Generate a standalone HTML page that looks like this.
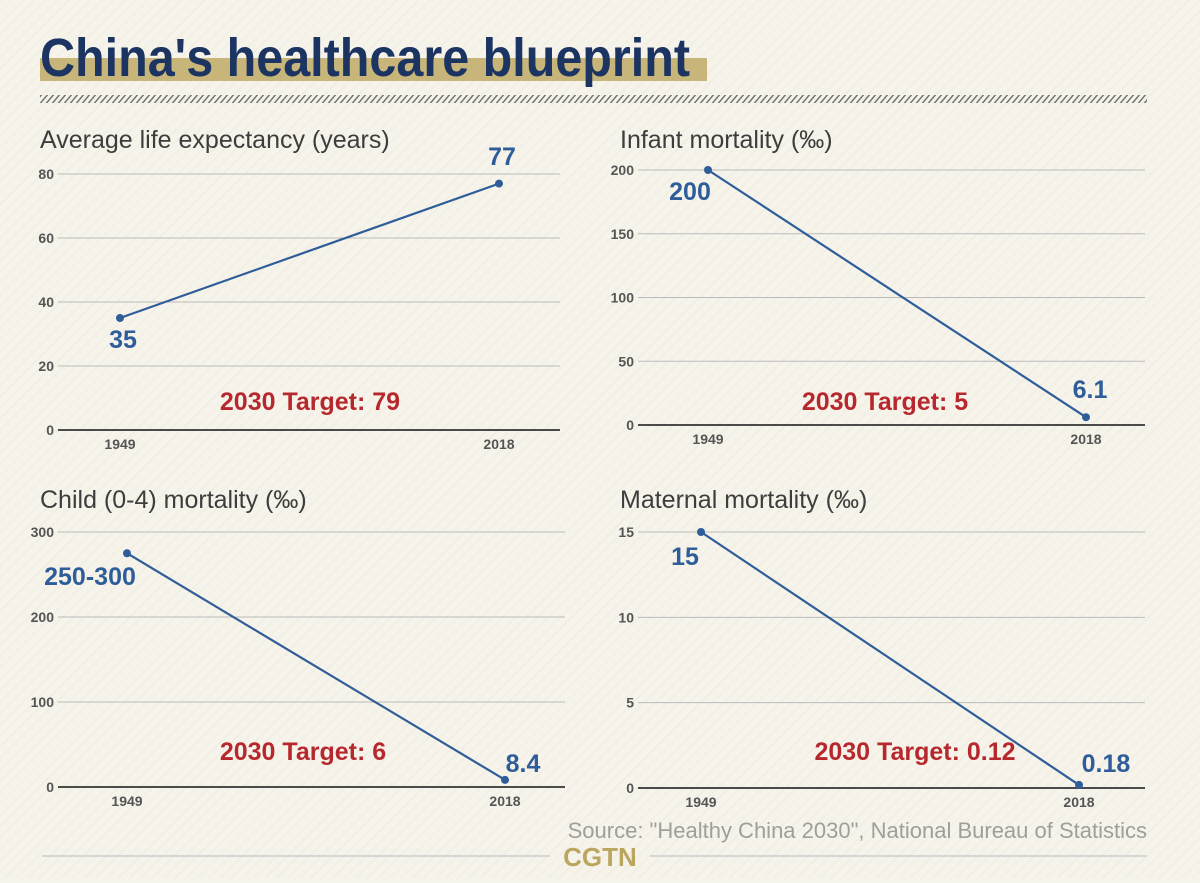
<!DOCTYPE html>
<html><head><meta charset="utf-8"><style>
body{margin:0;width:1200px;height:878px;overflow:hidden;background:#f6f3ea;font-family:"Liberation Sans Narrow","Liberation Sans",sans-serif;}
svg text{font-family:"Liberation Sans Narrow","Liberation Sans",sans-serif;}
</style></head><body>
<svg width="1200" height="878">
<defs>
<pattern id="bg" width="8" height="8" patternUnits="userSpaceOnUse" patternTransform="rotate(45)"><rect width="8" height="8" fill="#f6f3ea"/><rect width="1" height="8" fill="#efebe0"/></pattern>
<pattern id="hatch" width="6" height="8" patternUnits="userSpaceOnUse" patternTransform="skewX(-40)"><rect width="2" height="8" fill="#777"/></pattern>
</defs>
<rect width="1200" height="878" fill="url(#bg)"/>
<rect x="40" y="58" width="667" height="23" fill="#c8b57a"/>
<text x="40" y="76" font-size="54" font-weight="bold" fill="#1c3461" textLength="650" lengthAdjust="spacingAndGlyphs">China's healthcare blueprint</text>
<rect x="40" y="95" width="1107" height="8" fill="url(#hatch)"/>
<g id="charts"></g>
<text x="1147" y="838" text-anchor="end" font-size="22" fill="#a09e9a">Source: "Healthy China 2030", National Bureau of Statistics</text>
<line x1="42" y1="856" x2="550" y2="856" stroke="#ccc" stroke-width="1.5"/>
<line x1="650" y1="856" x2="1147" y2="856" stroke="#ccc" stroke-width="1.5"/>
<text x="600" y="866" text-anchor="middle" font-size="26" font-weight="bold" fill="#bba660">CGTN</text>
</svg>
<script>
const titles=["Average life expectancy (years)","Infant mortality (‰)","Child (0-4) mortality (‰)","Maternal mortality (‰)"];
const years=["1949","2018"];
const lifeValues=[35,77];
const infantValues=[200,6.1];
const childValues=[275,8.4];
const maternalValues=[15,0.18];
const valueLabels=[["35","77"],["200","6.1"],["250-300","8.4"],["15","0.18"]];
const targets=["2030 Target: 79","2030 Target: 5","2030 Target: 6","2030 Target: 0.12"];
const ticks=[[0,20,40,60,80],[0,50,100,150,200],[0,100,200,300],[0,5,10,15]];
const maxes=[80,200,300,15];
const series=[lifeValues,infantValues,childValues,maternalValues];
const layout=[
 {tx:40,ty:148,gx0:58,gx1:560,y0:430,yTop:174,x0:120,x1:499,tgx:310,tgy:410,lab:[[123,348],[502,165]]},
 {tx:620,ty:148,gx0:638,gx1:1145,y0:425,yTop:170,x0:708,x1:1086,tgx:885,tgy:410,lab:[[690,200],[1090,398]]},
 {tx:40,ty:508,gx0:58,gx1:565,y0:787,yTop:532,x0:127,x1:505,tgx:303,tgy:760,lab:[[90,585],[523,772]]},
 {tx:620,ty:508,gx0:638,gx1:1145,y0:788,yTop:532,x0:701,x1:1079,tgx:915,tgy:760,lab:[[685,565],[1106,772]]}];
const NS="http://www.w3.org/2000/svg",root=document.getElementById('charts');
function mk(t,a,txt){const e=document.createElementNS(NS,t);for(const k in a)e.setAttribute(k,a[k]);if(txt!==undefined)e.textContent=txt;root.appendChild(e);return e;}
series.forEach((vals,i)=>{const L=layout[i];
 const yS=v=>L.y0-(v/maxes[i])*(L.y0-L.yTop);
 const xS=j=>j===0?L.x0:L.x1;
 let e=mk('text',{x:L.tx,y:L.ty,'font-size':25,fill:'#3d3d3d'},titles[i]);
 
 
 ticks[i].forEach(t=>{const y=yS(t);
  e=mk('line',{x1:L.gx0,x2:L.gx1,y1:y,y2:y,stroke:t===0?'#333':'#bbb','stroke-width':t===0?1.8:1});
  
  
  e=mk('text',{x:L.gx0-4,y:y+5,'text-anchor':'end','font-size':14,'font-weight':'bold',fill:'#555'},t);
  
  });
 years.forEach((yr,j)=>{e=mk('text',{x:xS(j),y:L.y0+19,'text-anchor':'middle','font-size':14,'font-weight':'bold',fill:'#555'},yr);
  
  });
 e=mk('line',{x1:xS(0),y1:yS(vals[0]),x2:xS(1),y2:yS(vals[1]),stroke:'#2e5d9a','stroke-width':2.2});
 
 
 vals.forEach((v,j)=>{e=mk('circle',{cx:xS(j),cy:yS(v),r:4,fill:'#2e5d9a'});
  
  
  e=mk('text',{x:L.lab[j][0],y:L.lab[j][1],'text-anchor':'middle','font-size':25,'font-weight':'bold',fill:'#2e5d9a'},valueLabels[i][j]);
  
  });
 e=mk('text',{x:L.tgx,y:L.tgy,'text-anchor':'middle','font-size':25,'font-weight':'bold',fill:'#b7282e'},targets[i]);
 
 
});
</script>
</body></html>
